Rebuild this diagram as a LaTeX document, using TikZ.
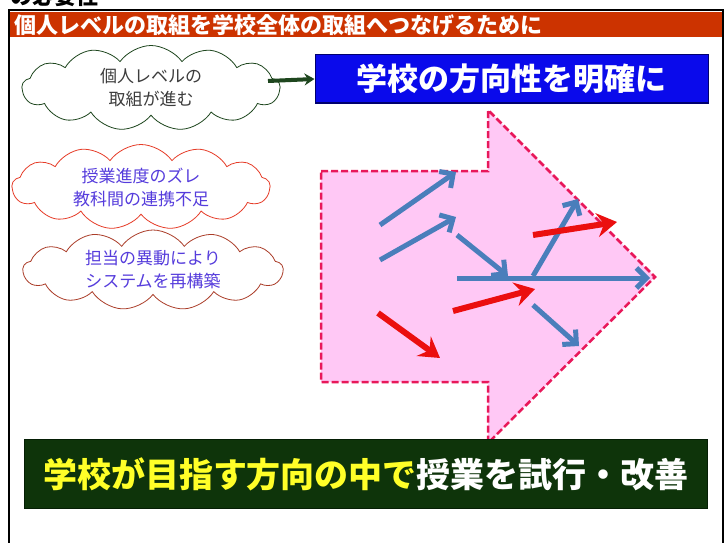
\documentclass[tikz,border=0pt]{standalone}
\usepackage{fontspec}
\newfontfamily\jp{Noto Sans CJK JP}
\usetikzlibrary{shapes.symbols,arrows.meta}
\definecolor{titlered}{RGB}{204,51,0}
\definecolor{boxblue}{RGB}{10,10,235}
\definecolor{boxgreen}{RGB}{14,52,10}
\definecolor{cloudgreen}{RGB}{30,70,30}
\definecolor{cloudred}{RGB}{230,60,40}
\definecolor{cloudbrown}{RGB}{170,60,40}
\definecolor{cloudtext}{RGB}{85,60,220}
\definecolor{pinkfill}{RGB}{255,200,245}
\definecolor{pinkline}{RGB}{232,24,90}
\definecolor{steel}{RGB}{74,126,187}
\definecolor{arrred}{RGB}{235,15,15}
\definecolor{txtyellow}{RGB}{255,255,40}
\tikzset{
  cloudbox/.style={cloud, cloud puffs=13, cloud puff arc=110, cloud ignores aspect,
    fill=white, line width=0.8pt, align=center, inner sep=0pt,
    font=\jp\fontsize{17}{23}\selectfont},
  bluearr/.style={draw=steel, line width=5pt, -{Straight Barb[length=10pt,width=20pt,line width=5pt]}},
  redarr/.style={draw=arrred, line width=6pt, -{Stealth[length=20pt,width=24pt,inset=7pt]}},
}
\begin{document}
\begin{tikzpicture}[x=1pt,y=-1pt]
\useasboundingbox (0,0) rectangle (726,543);
\clip (0,0) rectangle (726,543);
\fill[white] (0,0) rectangle (726,543);
% cut-off heading at top
\node[anchor=west, inner sep=0pt, font=\jp\bfseries\fontsize{22}{22}\selectfont] (head) at (10,-4) {の必要性};
% frame
\draw[black, line width=2pt] (9,560) -- (9,10) -- (723,10) -- (723,560);
% title bar
\fill[titlered] (10,12) rectangle (722,37);
\node[anchor=west, inner sep=0pt, text=white, font=\jp\bfseries\fontsize{22}{22}\selectfont] (title) at (14,25) {個人レベルの取組を学校全体の取組へつなげるために};
% blue box
\node[draw={rgb,255:red,0;green,0;blue,110}, fill=boxblue, line width=1pt, minimum width=393, minimum height=48, inner sep=0pt, text=white, font=\jp\bfseries\fontsize{31}{31}\selectfont] (dir) at (511.5,79) {学校の方向性を明確に};
% clouds
\node[cloudbox, draw=cloudgreen, text={rgb,255:red,60;green,60;blue,60}, minimum width=258, minimum height=85] (c1) at (151,88) {個人レベルの\\取組が進む};
\node[cloudbox, draw=cloudred, text=cloudtext, minimum width=258, minimum height=85] (c2) at (141,187) {授業進度のズレ\\教科間の連携不足};
\node[cloudbox, draw=cloudbrown, text=cloudtext, minimum width=260, minimum height=80] (c3) at (153,270) {担当の異動により\\システムを再構築};
\coordinate (ga) at (268,81);
\draw[cloudgreen, line width=4pt, -{Stealth[length=10pt,width=12pt]}] (ga) -- (dir.west);
% big arrow
\draw[pinkline, fill=pinkfill, line width=2.5pt, dash pattern=on 7pt off 3pt, line join=miter]
  (321,171) -- (488,171) -- (488,110) -- (655,277) -- (488,443) -- (488,382) -- (321,382) -- cycle;
% arrows inside
\coordinate (b1s) at (380,225); \coordinate (b1e) at (456,172);
\coordinate (b2s) at (380,260); \coordinate (b2e) at (456,217);
\coordinate (b3s) at (457,235); \coordinate (b3e) at (508,276);
\coordinate (b4s) at (457,278); \coordinate (b4e) at (650,278);
\coordinate (b5s) at (533,276); \coordinate (b5e) at (578,199);
\coordinate (b6s) at (533,305); \coordinate (b6e) at (579,346);
\draw[bluearr] (b1s) -- (b1e);
\draw[bluearr] (b2s) -- (b2e);
\draw[bluearr] (b3s) -- (b3e);
\draw[bluearr] (b4s) -- (b4e);
\draw[bluearr] (b5s) -- (b5e);
\draw[bluearr] (b6s) -- (b6e);
\coordinate (r1s) at (533,235); \coordinate (r1e) at (617,222);
\coordinate (r2s) at (453,311); \coordinate (r2e) at (535,289);
\coordinate (r3s) at (378,313); \coordinate (r3e) at (440,358);
\draw[redarr] (r1s) -- (r1e);
\draw[redarr] (r2s) -- (r2e);
\draw[redarr] (r3s) -- (r3e);
% green box
\node[fill=boxgreen, draw={rgb,255:red,5;green,30;blue,5}, minimum width=683, minimum height=69, inner sep=0pt, font=\jp\bfseries\fontsize{34}{34}\selectfont] (act) at (366,474) {\textcolor{txtyellow}{学校が目指す方向の中で}\textcolor{white}{授業を試行・改善}};
\end{tikzpicture}
\end{document}
